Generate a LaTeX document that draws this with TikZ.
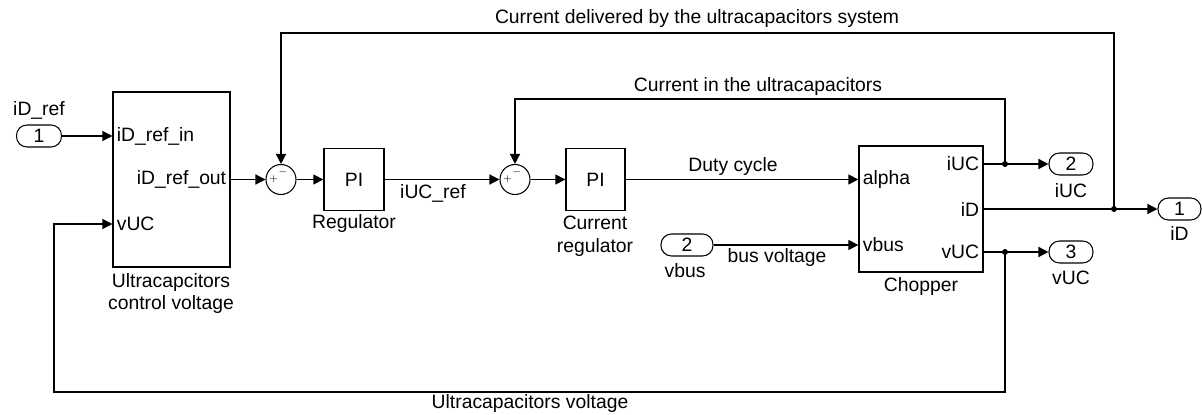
\documentclass[tikz,border=0pt]{standalone}
\usepackage{fontspec}
\setmainfont{Liberation Sans}
\usetikzlibrary{positioning, arrows.meta}
\tikzset{%
  bloque/.style ={rectangle, draw, line width=0.75pt, inner sep=0pt},
  suma/.style   ={circle, draw, line width=0.6pt, minimum size=0.6cm, inner sep=0pt,
                  label={[font=\tiny, xshift=-0.15cm]center:$+$},
                  label={[font=\tiny, xshift=0.04cm, yshift=0.14cm]center:$-$}},
  puerto/.style ={rectangle, draw, rounded corners=0.21cm, line width=0.6pt,
                  minimum width=0.9cm, minimum height=0.44cm, inner sep=0pt},
  prt/.style    ={inner sep=2pt},
  punto/.style  ={circle, fill, inner sep=0pt, minimum size=0.12cm},
  etq/.style    ={align=center, inner sep=1pt},
  flarr/.style  ={-{Triangle[length=0.2cm, width=0.2cm]}, line width=0.75pt},
  ln/.style     ={-, line width=0.75pt}
}

\begin{document}
\begin{tikzpicture}[every node/.style={font=\fontsize{11}{13}\selectfont}]
  \useasboundingbox (0,0) rectangle (24.04,8.28);
  % input and control voltage block
  \node[puerto] (inref) at (0.78,5.56) {1};
  \node[etq] (linref) at (0.78,6.08) {iD\_ref};
  \node[bloque, minimum width=2.34cm, minimum height=3.5cm] (ucc) at (3.43,4.69) {};
  \node[prt, anchor=west] (ucin) at (2.26,5.56) {iD\_ref\_in};
  \node[prt, anchor=east] (ucout) at (4.60,4.69) {iD\_ref\_out};
  \node[prt, anchor=west] (ucv) at (2.26,3.80) {vUC};
  \node[etq] (lucc) at (3.42,2.41) {Ultracapcitors\\control voltage};
  % regulators
  \node[suma] (s1) at (5.62,4.69) {};
  \node[bloque, minimum width=1.2cm, minimum height=1.24cm] (reg) at (7.08,4.69) {PI};
  \node[etq] (lreg) at (7.08,3.80) {Regulator};
  \node[suma] (s2) at (10.30,4.69) {};
  \node[bloque, minimum width=1.18cm, minimum height=1.24cm] (creg) at (11.91,4.69) {PI};
  \node[etq] (lcreg) at (11.90,3.55) {Current\\regulator};
  \node[etq] (lref) at (8.66,4.42) {iUC\_ref};
  % chopper
  \node[bloque, minimum width=2.48cm, minimum height=2.52cm] (chop) at (18.42,4.10) {};
  \node[prt, anchor=west] (palpha) at (17.18,4.69) {alpha};
  \node[prt, anchor=west] (pvbus) at (17.18,3.38) {vbus};
  \node[prt, anchor=east] (piuc) at (19.66,5.00) {iUC};
  \node[prt, anchor=east] (pid) at (19.66,4.10) {iD};
  \node[prt, anchor=east] (pvuc) at (19.66,3.24) {vUC};
  \node[etq] (lchop) at (18.42,2.54) {Chopper};
  \node[puerto, minimum width=1.04cm] (vbus) at (13.74,3.38) {2};
  \node[etq] (lvbus) at (13.70,2.86) {vbus};
  \node[etq] (lduty) at (14.66,4.94) {Duty cycle};
  \node[etq] (lbus) at (15.54,3.12) {bus voltage};
  % outputs
  \node[punto] (j1) at (20.10,5.00) {};
  \node[punto] (j2) at (22.28,4.10) {};
  \node[punto] (j3) at (20.10,3.24) {};
  \node[puerto, minimum width=0.88cm] (oiuc) at (21.42,5.00) {2};
  \node[etq] (loiuc) at (21.42,4.46) {iUC};
  \node[puerto, minimum width=0.86cm] (oid) at (23.59,4.10) {1};
  \node[etq] (loid) at (23.59,3.62) {iD};
  \node[puerto, minimum width=0.88cm] (ovuc) at (21.42,3.24) {3};
  \node[etq] (lovuc) at (21.42,2.72) {vUC};
  % forward path
  \draw[flarr] (inref) -- (ucc.west |- inref);
  \draw[flarr] (ucc.east |- ucout) -- (s1);
  \draw[flarr] (s1) -- (reg);
  \draw[flarr] (reg) -- (s2);
  \draw[flarr] (s2) -- (creg);
  \draw[flarr] (creg) -- (chop.west |- palpha);
  \draw[flarr] (vbus) -- (chop.west |- pvbus);
  \draw[ln] (chop.east |- piuc) -- (j1.center); \draw[flarr] (j1.center) -- (oiuc);
  \draw[ln] (chop.east |- pid) -- (j2.center); \draw[flarr] (j2.center) -- (oid);
  \draw[ln] (chop.east |- pvuc) -- (j3.center); \draw[flarr] (j3.center) -- (ovuc);
  % feedback loops
  \coordinate (c1) at (22.28,7.62);
  \coordinate (c2) at (20.10,6.30);
  \coordinate (c3) at (1.08,0.44);
  \draw[flarr] (j2.center) -- (c1) -| (s1);
  \draw[flarr] (j1.center) -- (c2) -| (s2);
  \draw[flarr] (j3.center) |- (c3) |- (ucc.west |- ucv);
  \node[etq] (lfb1) at (13.94,7.90) {Current delivered by the ultracapacitors system};
  \node[etq] (lfb2) at (15.16,6.54) {Current in the ultracapacitors};
  \node[etq] (lvolt) at (10.60,0.20) {Ultracapacitors voltage};
\end{tikzpicture}
\end{document}
